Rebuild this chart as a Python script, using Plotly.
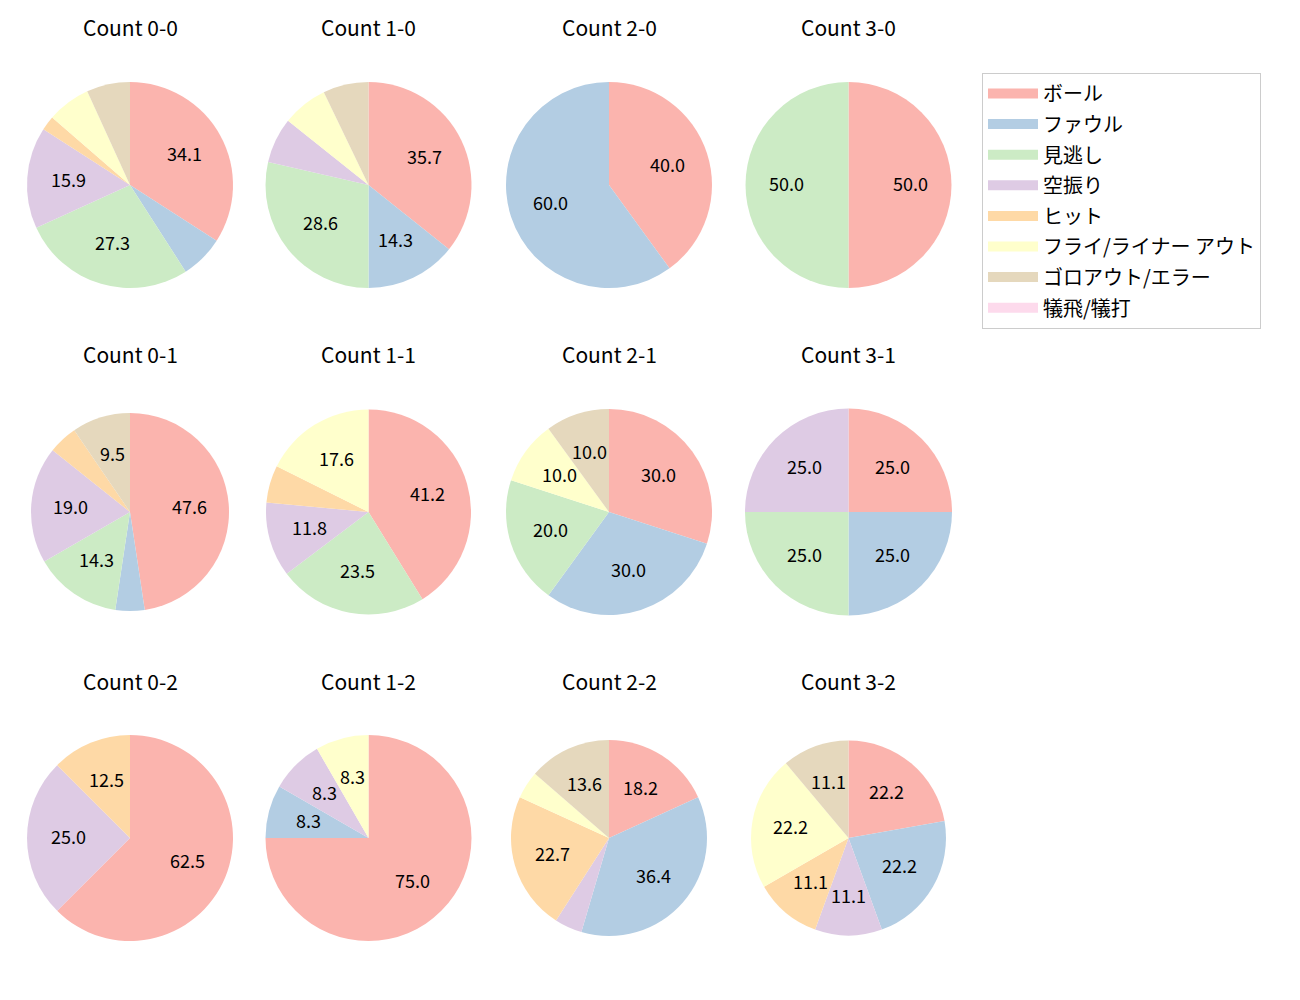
"""Pitch outcome share by ball-strike count, one pie per count."""

import math

import plotly.graph_objects as go

# the page body has an 8px margin, so the figure is drawn a bit smaller
PAGE_PAD = 8
W, H = 1300 - 2 * PAGE_PAD, 1000 - 2 * PAGE_PAD
FONT = "Noto Sans CJK JP"

outcomes = [
    "ボール",
    "ファウル",
    "見逃し",
    "空振り",
    "ヒット",
    "フライ/ライナー アウト",
    "ゴロアウト/エラー",
    "犠飛/犠打",
]
colors = ["#fbb4ae", "#b3cde3", "#ccebc5", "#decbe4", "#fed9a6", "#ffffcc", "#e5d8bd", "#fddaec"]

counts_labels = ["0-0", "1-0", "2-0", "3-0", "0-1", "1-1", "2-1", "3-1", "0-2", "1-2", "2-2", "3-2"]

# pitches per outcome, same order as `outcomes`
count_0_0 = [15, 3, 12, 7, 1, 3, 3, 0]
count_1_0 = [5, 2, 4, 1, 0, 1, 1, 0]
count_2_0 = [2, 3, 0, 0, 0, 0, 0, 0]
count_3_0 = [1, 0, 1, 0, 0, 0, 0, 0]
count_0_1 = [10, 1, 3, 4, 1, 0, 2, 0]
count_1_1 = [7, 0, 4, 2, 1, 3, 0, 0]
count_2_1 = [3, 3, 2, 0, 0, 1, 1, 0]
count_3_1 = [1, 1, 1, 1, 0, 0, 0, 0]
count_0_2 = [5, 0, 0, 2, 1, 0, 0, 0]
count_1_2 = [9, 1, 0, 1, 0, 1, 0, 0]
count_2_2 = [4, 8, 0, 1, 5, 1, 3, 0]
count_3_2 = [2, 2, 0, 1, 1, 2, 1, 0]

all_counts = [
    count_0_0, count_1_0, count_2_0, count_3_0,
    count_0_1, count_1_1, count_2_1, count_3_1,
    count_0_2, count_1_2, count_2_2, count_3_2,
]

# layout (screen pixels): pie centres per column / row, radius per pie, title rows
col_x = [130, 368.5, 609, 848.5]
row_y = [185, 512, 838]
title_y = [27, 354, 681]
radii = [103, 103, 103, 103, 99, 102.5, 103, 103.5, 103, 103, 98, 97.5]
MIN_PCT = 8.0
LABEL_NUDGE = -2  # annotation boxes sit a touch low vs. the glyphs


def px_x(x):
    return (x - PAGE_PAD) / W


def px_y(y):
    return 1 - (y - PAGE_PAD) / H


fig = go.Figure()
annotations = []

for i, (name, vals) in enumerate(zip(counts_labels, all_counts)):
    row, col = divmod(i, 4)
    cx, cy, r = col_x[col], row_y[row], radii[i]
    fig.add_trace(
        go.Pie(
            labels=outcomes,
            values=vals,
            sort=False,
            direction="clockwise",
            rotation=0,
            marker=dict(colors=colors, line=dict(width=0)),
            textinfo="none",
            showlegend=False,
            domain=dict(x=[px_x(cx - r), px_x(cx + r)], y=[px_y(cy + r), px_y(cy - r)]),
            hovertemplate="Count " + name + "<br>%{label}: %{percent}<extra></extra>",
        )
    )
    annotations.append(
        dict(
            x=px_x(cx), y=px_y(title_y[row]), xref="paper", yref="paper",
            text=f"Count {name}", showarrow=False,
            xanchor="center", yanchor="middle",
            font=dict(family=FONT, size=21, color="#000000"),
        )
    )
    # percentage labels at 0.6 r, like matplotlib autopct
    total = sum(vals)
    cum = 0
    for v in vals:
        pct = 100 * v / total
        if pct >= MIN_PCT:
            theta = math.radians(90 - 360 * (cum + v / 2) / total)
            lx = cx + 0.6 * r * math.cos(theta)
            ly = cy - 0.6 * r * math.sin(theta) + LABEL_NUDGE
            annotations.append(
                dict(
                    x=px_x(lx), y=px_y(ly), xref="paper", yref="paper",
                    text=f"{pct:.1f}", showarrow=False,
                    xanchor="center", yanchor="middle",
                    font=dict(family=FONT, size=18, color="#000000"),
                )
            )
        cum += v

# legend keys
for lab, col in zip(outcomes, colors):
    fig.add_trace(
        go.Scatter(
            x=[None], y=[None], mode="lines",
            line=dict(color=col, width=14),
            name=lab, legendgroup=lab, hoverinfo="skip",
        )
    )

fig.update_layout(
    width=W,
    height=H,
    margin=dict(l=0, r=0, t=0, b=0),
    paper_bgcolor="white",
    plot_bgcolor="white",
    font=dict(family=FONT, size=18, color="#000000"),
    xaxis=dict(visible=False),
    yaxis=dict(visible=False),
    annotations=annotations,
    legend=dict(
        x=px_x(982), y=px_y(73), xanchor="left", yanchor="top",
        bgcolor="white", bordercolor="#cccccc", borderwidth=1,
        font=dict(family=FONT, size=20),
        tracegroupgap=1.6, itemwidth=50,
    ),
)

fig.write_html("out.html")
